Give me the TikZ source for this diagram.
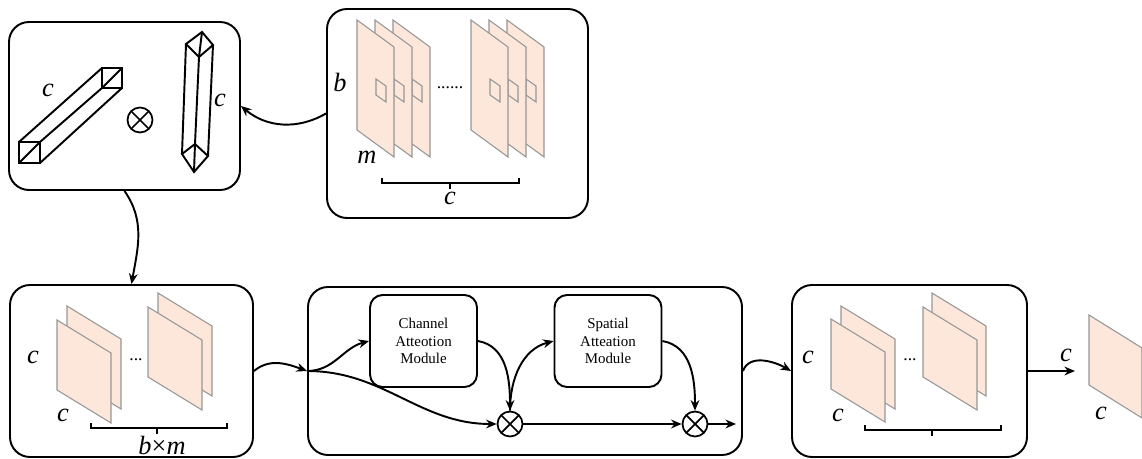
\documentclass[tikz,border=0pt]{standalone}
\usepackage{fontspec}
\setmainfont{Liberation Serif}
\newfontfamily\figfont{Liberation Serif}
\usetikzlibrary{arrows.meta,fit}

\definecolor{featfill}{RGB}{252,231,218}
\definecolor{featedge}{RGB}{150,150,150}

% feature plane: left, top, width, height, drop
\newcommand{\plane}[5]{%
  \filldraw[sheet] (#1,#2) -- ++(#3,-#5) -- ++(0,-#4) -- ++(-#3,#5) -- cycle;}
% small window on a tall plane
\newcommand{\patch}[2]{%
  \draw[sheet] (#1+19,#2-59) -- ++(10,-7) -- ++(0,-16) -- ++(-10,7) -- cycle;}
% bracket under a group: x1, x2, y, x of middle tick
\newcommand{\groupbar}[4]{%
  \draw[bar] (#1,#3+5) -- (#1,#3) -- (#2,#3) -- (#2,#3+5);
  \draw[bar] (#4,#3) -- (#4,#3-6);}

\begin{document}
\begin{tikzpicture}[
  x=0.02cm, y=0.02cm,
  box/.style={draw, rounded corners=0.4cm, line width=1.1pt, inner sep=0pt},
  modbox/.style={draw, rounded corners=0.25cm, line width=1.1pt,
    minimum width=2.14cm, minimum height=1.84cm, align=center,
    font=\figfont\fontsize{8.5}{10}\selectfont},
  otimes/.style={circle, draw, line width=1pt, minimum size=0.5cm, inner sep=0pt,
    path picture={\draw[line width=1pt]
      (path picture bounding box.north west) -- (path picture bounding box.south east)
      (path picture bounding box.north east) -- (path picture bounding box.south west);}},
  arr/.style={-{Stealth[length=6pt,width=5pt]}, line width=1.1pt},
  bar/.style={line width=1.1pt},
  sheet/.style={fill=featfill, draw=featedge, line width=0.6pt},
  lbl/.style={font=\figfont\fontsize{15}{15}\selectfont\itshape, inner sep=0pt},
  dots/.style={font=\figfont\fontsize{10}{10}\selectfont, inner sep=0pt}
]
\useasboundingbox (0,0) rectangle (1142,-459);

% --- boxes ---
\node[box, fit={(9,-22) (240,-190)}]  (boxA) {};
\node[box, fit={(327,-9) (588,-218)}] (boxB) {};
\node[box, fit={(10,-285) (253,-457)}] (boxC) {};
\node[box, fit={(308,-287) (742,-455)}] (boxD) {};
\node[box, fit={(792,-285) (1027,-457)}] (boxE) {};

% --- outer product (box A) ---
\draw[bar] (19,-142) rectangle (40,-163);
\draw[bar] (19,-163) -- (40,-142);
\draw[bar] (102,-68) rectangle (122,-88);
\draw[bar] (102,-88) -- (122,-68);
\draw[bar] (19,-142) -- (102,-68);
\draw[bar] (40,-142) -- (102,-88);
\draw[bar] (40,-163) -- (122,-88);

\draw[bar] (202,-32) -- (186,-44) -- (199,-57) -- (213,-45) -- cycle;
\draw[bar] (202,-32) -- (199,-57);
\draw[bar] (195,-144) -- (182,-154) -- (194,-172) -- (208,-156) -- cycle;
\draw[bar] (195,-144) -- (194,-172);
\draw[bar] (186,-44) -- (182,-154);
\draw[bar] (213,-45) -- (208,-156);
\draw[bar] (199,-57) -- (195,-144);

\node[otimes] (otA) at (140,-120) {};
\node[lbl] (cA1) at (48,-90) {c};
\node[lbl] (cA2) at (220,-100) {c};

% --- input planes (box B) ---
\foreach \x in {507,489,471,393,375,357} {
  \plane{\x}{-20}{37}{110}{27}
  \patch{\x}{-20}
}
\node[dots] (dotB) at (450,-88) {......};
\node[lbl] (bB) at (340,-82) {b};
\node[lbl] (mB) at (367,-157) {m};
\groupbar{382}{519}{-183}{450}
\node[lbl] (cB) at (450,-198) {c};

% --- reshaped planes (box C) ---
\plane{67}{-306}{54}{70}{33}
\plane{57}{-320}{54}{70}{33}
\plane{158}{-293}{54}{70}{33}
\plane{148}{-307}{54}{70}{33}
\node[dots] (dotC) at (136,-360) {...};
\node[lbl] (cC1) at (33,-357) {c};
\node[lbl] (cC2) at (63,-415) {c};
\groupbar{91}{227}{-428}{157}
\node[lbl] (bmC) at (162,-445) {b{\upshape ×}m};

% --- attention (box D) ---
\node[modbox] (cam) at (423.5,-341) {Channel\\Atteotion\\Module};
\node[modbox] (sam) at (608,-341) {Spatial\\Atteation\\Module};
\node[otimes] (ot1) at (510,-424) {};
\node[otimes] (ot2) at (695,-424) {};
\coordinate (dOut) at (736,-424);

% --- refined planes (box E) ---
\plane{841}{-306}{54}{70}{33}
\plane{831}{-319}{54}{70}{33}
\plane{932}{-293}{54}{70}{33}
\plane{923}{-307}{54}{70}{33}
\node[dots] (dotE) at (910,-360) {...};
\node[lbl] (cE1) at (808,-357) {c};
\node[lbl] (cE2) at (838,-415) {c};
\groupbar{865}{1001}{-430}{932}

% --- output plane ---
\plane{1089}{-315}{53}{70}{33}
\coordinate (fin) at (1075,-371);
\node[lbl] (cF1) at (1066,-355) {c};
\node[lbl] (cF2) at (1101,-413) {c};

% --- connectors ---
\draw[arr] (boxB.west) to[out=-150, in=-40] (boxA.east);
\draw[arr] (boxA.south) to[out=-55, in=80] (boxC.north);
\draw[arr] (boxC.east) to[out=40, in=160] (boxD.west);
\draw[arr] (boxD.west) to[out=0, in=195] (cam.west);
\draw[arr] (boxD.west) to[out=0, in=180] (ot1.west);
\draw[arr] (cam.east) to[out=-10, in=90] (ot1.north);
\draw[arr] (ot1.north) to[out=90, in=195] (sam.west);
\draw[arr] (sam.east) to[out=-10, in=90] (ot2.north);
\draw[arr] (ot1.east) -- (ot2.west);
\draw[arr] (ot2.east) -- (dOut);
\draw[arr] (boxD.east) to[out=70, in=150] (boxE.west);
\draw[arr] (boxE.east) -- (fin);

\end{tikzpicture}
\end{document}
